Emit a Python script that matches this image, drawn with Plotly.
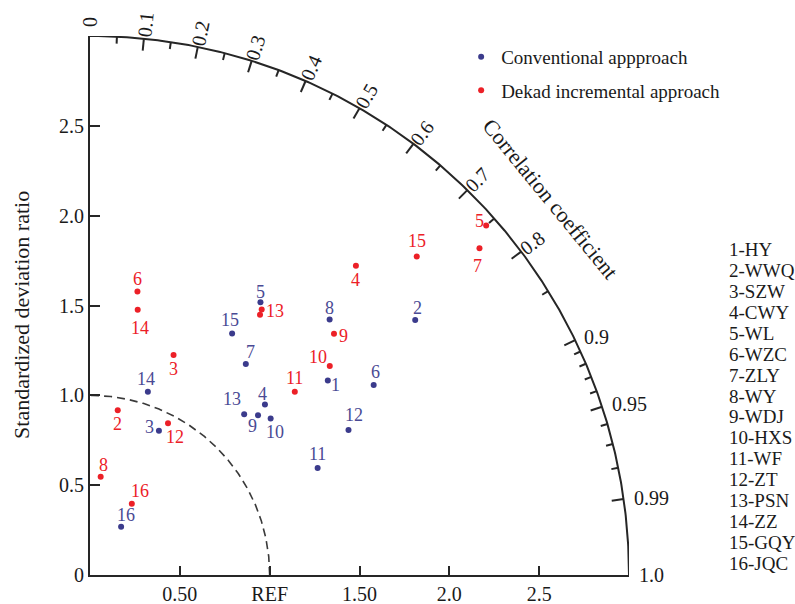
import numpy as np
import plotly.graph_objects as go

# ---------------- data ----------------
stations = ["HY", "WWQ", "SZW", "CWY", "WL", "WZC", "ZLY", "WY", "WDJ",
            "HXS", "WF", "ZT", "PSN", "ZZ", "GQY", "JQC"]
# Conventional approach: standardized deviation ratio and correlation
conv_std = [1.71, 2.30, 0.89, 1.36, 1.79, 1.90, 1.46, 1.95, 1.29, 1.33,
            1.40, 1.65, 1.24, 1.07, 1.56, 0.32]
conv_corr = [0.774, 0.787, 0.431, 0.716, 0.530, 0.831, 0.594, 0.684, 0.725,
             0.756, 0.905, 0.872, 0.692, 0.301, 0.507, 0.541]
# Dekad incremental approach
dekad_std = [1.73, 0.93, 1.31, 2.27, 2.94, 1.60, 2.83, 0.55, 1.91, 1.77,
             1.53, 0.95, 1.76, 1.50, 2.54, 0.46]
dekad_corr = [0.547, 0.166, 0.355, 0.652, 0.750, 0.165, 0.766, 0.108, 0.711,
              0.754, 0.745, 0.457, 0.543, 0.177, 0.716, 0.506]

corr_major = [0.0, 0.1, 0.2, 0.3, 0.4, 0.5, 0.6, 0.7, 0.8, 0.9, 0.95, 0.99, 1.0]
corr_major_text = ["0", "0.1", "0.2", "0.3", "0.4", "0.5", "0.6", "0.7", "0.8",
                   "0.9", "0.95", "0.99", "1.0"]
corr_minor = [0.05, 0.15, 0.25, 0.35, 0.45, 0.55, 0.65, 0.75, 0.85,
              0.91, 0.92, 0.93, 0.94, 0.96, 0.97, 0.98]
std_ticks = [0, 0.5, 1.0, 1.5, 2.0, 2.5]
std_ticktext = ["0", "0.5", "1.0", "1.5", "2.0", "2.5"]
x_ticks = [0.5, 1.0, 1.5, 2.0, 2.5]
x_ticktext = ["0.50", "REF", "1.50", "2.0", "2.5"]
max_std = 3.0
ref_std = 1.0

# ---------------- style ----------------
FONT = "Liberation Serif, Times New Roman, serif"
BLUE = "#3b3b8c"
BLUE_TXT = "#4a4a94"
RED = "#ec2027"
AXIS = "#262626"
PX = 179.6  # pixels per unit (plot area 3 units)

# label offsets in px (dx, dy downwards)
blue_off = [(8, 5), (2, -12), (-9, -4), (-2, -10), (0, -10), (2, -13), (5, -12),
            (0, -11), (-6, 11), (4, 13), (0, -14), (5, -15), (-12, -15),
            (-2, -13), (-2, -13), (5, -12)]
red_off = [None, (0, 14), (0, 14), (0, 14), (-7, -5), (0, -12), (-2, 18),
           (3, -12), (10, 2), (-12, -9), (0, -14), (7, 14), (13, 2), (2, 18),
           (0, -15), (8, -13)]


def to_xy(std, corr):
    s = np.asarray(std, float)
    c = np.asarray(corr, float)
    return s * c, s * np.sqrt(1 - c ** 2)


fig = go.Figure()

# outer arc
th = np.linspace(0, np.pi / 2, 300)
fig.add_trace(go.Scatter(x=max_std * np.cos(th), y=max_std * np.sin(th),
                         mode="lines", line=dict(color=AXIS, width=2),
                         hoverinfo="skip", showlegend=False))
# reference arc (dashed)
fig.add_trace(go.Scatter(x=ref_std * np.cos(th), y=ref_std * np.sin(th),
                         mode="lines",
                         line=dict(color="#3a3a3a", width=1.6, dash="8px,5px"),
                         hoverinfo="skip", showlegend=False))

# correlation ticks on the arc (inward)
tx, ty = [], []
for vals, ln in ((corr_major[1:-1], 12), (corr_minor, 7)):
    for c in vals:
        a = np.arccos(c)
        r0, r1 = max_std, max_std - ln / PX
        tx += [r0 * np.cos(a), r1 * np.cos(a), None]
        ty += [r0 * np.sin(a), r1 * np.sin(a), None]
fig.add_trace(go.Scatter(x=tx, y=ty, mode="lines",
                         line=dict(color=AXIS, width=2),
                         hoverinfo="skip", showlegend=False))

# data points
bx, by = to_xy(conv_std, conv_corr)
rx, ry = to_xy(dekad_std, dekad_corr)
fig.add_trace(go.Scatter(x=bx, y=by, mode="markers", name="Conventional appproach",
                         marker=dict(color=BLUE, size=6), cliponaxis=False,
                         legendgroup="a"))
fig.add_trace(go.Scatter(x=rx, y=ry, mode="markers",
                         name="Dekad incremental approach",
                         marker=dict(color=RED, size=6), cliponaxis=False,
                         legendgroup="b"))

ann = []
for i in range(len(stations)):
    dx, dy = blue_off[i]
    ann.append(dict(x=bx[i], y=by[i], text=str(i + 1), showarrow=False,
                    xshift=dx, yshift=-dy, xanchor="center", yanchor="middle",
                    font=dict(family=FONT, size=18, color=BLUE_TXT)))
    if red_off[i] is not None:
        dx, dy = red_off[i]
        ann.append(dict(x=rx[i], y=ry[i], text=str(i + 1), showarrow=False,
                        xshift=dx, yshift=-dy, xanchor="center", yanchor="middle",
                        font=dict(family=FONT, size=18, color=RED)))

# correlation tick labels
for c, t in zip(corr_major, corr_major_text):
    a = np.arccos(c)
    x0, y0 = max_std * np.cos(a), max_std * np.sin(a)
    if c >= 0.9:
        ann.append(dict(x=x0, y=y0, text=t, showarrow=False, xanchor="left",
                        yanchor="middle", xshift=8 * np.cos(a), yshift=8 * np.sin(a),
                        font=dict(family=FONT, size=20, color="#1a1a1a")))
    else:
        d = 14
        ann.append(dict(x=x0, y=y0, text=t, showarrow=False, xanchor="center",
                        yanchor="middle", textangle=-np.degrees(a),
                        xshift=d * np.cos(a), yshift=d * np.sin(a),
                        font=dict(family=FONT, size=20, color="#1a1a1a")))

# correlation axis title
a_t = np.radians(39.3)
r_t = 3.31
ann.append(dict(x=r_t * np.cos(a_t), y=r_t * np.sin(a_t),
                text="Correlation coefficient", showarrow=False,
                textangle=90 - np.degrees(a_t), xanchor="center", yanchor="middle",
                font=dict(family=FONT, size=22, color="#1a1a1a")))

# y-axis title
ann.append(dict(x=-68 / (PX * max_std), y=(575 - 315) / (PX * max_std),
                xref="paper", yref="paper", text="Standardized deviation ratio",
                showarrow=False, textangle=-90, xanchor="center", yanchor="middle",
                font=dict(family=FONT, size=22, color="#1a1a1a")))

# station list
for i, s in enumerate(stations):
    ann.append(dict(x=(727 - 90) / (PX * max_std),
                    y=(575 - (250 + i * 20.87)) / (PX * max_std),
                    xref="paper", yref="paper", text=f"{i + 1}-{s}",
                    showarrow=False, xanchor="left", yanchor="middle",
                    font=dict(family=FONT, size=19, color="#1a1a1a")))

W = PX * max_std
fig.update_layout(
    template="none",
    width=795, height=604,
    margin=dict(l=90, r=795 - 90 - W, t=575 - W, b=29, pad=0, autoexpand=False),
    paper_bgcolor="white", plot_bgcolor="white",
    xaxis=dict(range=[0, max_std], showgrid=False, zeroline=False,
               showline=True, linecolor=AXIS, linewidth=2,
               tickmode="array", tickvals=x_ticks, ticktext=x_ticktext,
               ticks="inside", ticklen=9, tickwidth=2, tickcolor=AXIS,
               tickfont=dict(family=FONT, size=20, color="#1a1a1a"),
               automargin=False, fixedrange=True),
    yaxis=dict(range=[0, max_std], showgrid=False, zeroline=False,
               showline=True, linecolor=AXIS, linewidth=2,
               tickmode="array", tickvals=std_ticks, ticktext=std_ticktext,
               ticks="inside", ticklen=10, tickwidth=2, tickcolor=AXIS,
               tickfont=dict(family=FONT, size=20, color="#1a1a1a"),
               automargin=False, fixedrange=True),
    showlegend=True,
    legend=dict(x=(461 - 90) / W, y=(575 - 38) / W, xanchor="left", yanchor="top",
                bgcolor="rgba(0,0,0,0)", borderwidth=0, tracegroupgap=6,
                font=dict(family=FONT, size=19, color="#1a1a1a")),
    annotations=ann,
)

fig.write_html("out.html")
